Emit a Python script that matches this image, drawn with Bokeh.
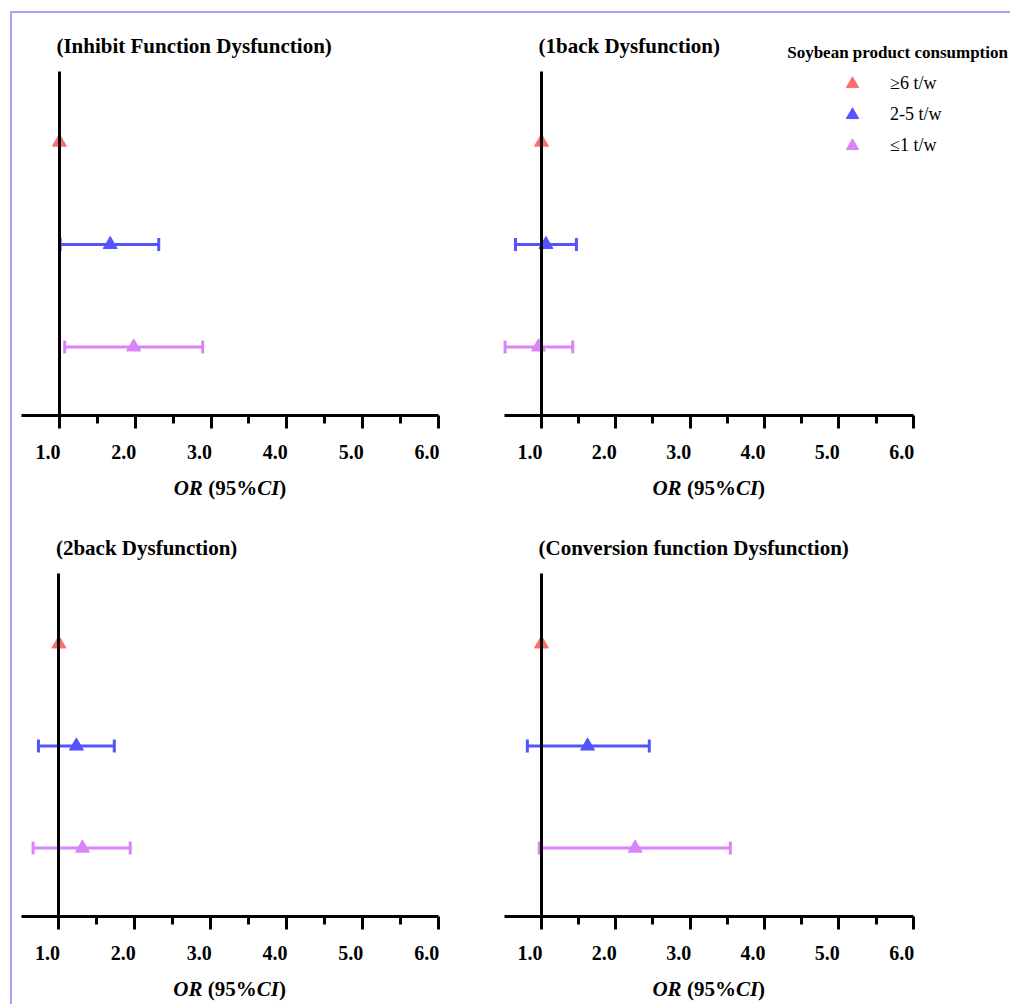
from bokeh.plotting import figure
from bokeh.models import (ColumnDataSource, Whisker, TeeHead, Label, Legend, LegendItem,
                          FixedTicker, CustomJSTickFormatter, LinearAxis, Range1d)
from bokeh.layouts import column, row
from bokeh.embed import file_html
from bokeh.resources import INLINE

# ---------------- data ----------------
panel_titles = ["(Inhibit Function Dysfunction)", "(1back Dysfunction)",
                "(2back Dysfunction)", "(Conversion function Dysfunction)"]
groups = ["\u22656 t/w", "2-5 t/w", "\u22641 t/w"]
group_rows = [3, 2, 1]
group_colors = ["#ff6e6e", "#5454ff", "#da84f8"]
legend_title = "Soybean product consumption"

# OR (point), lower and upper 95% CI for [>=6 (reference), 2-5, <=1]
or_inhibit = [1.00, 1.67, 1.98]
lo_inhibit = [1.00, 1.01, 1.07]
hi_inhibit = [1.00, 2.31, 2.89]

or_1back = [1.00, 1.06, 0.96]
lo_1back = [1.00, 0.65, 0.51]
hi_1back = [1.00, 1.47, 1.42]

or_2back = [1.00, 1.23, 1.31]
lo_2back = [1.00, 0.73, 0.66]
hi_2back = [1.00, 1.73, 1.94]

or_conv = [1.00, 1.62, 2.26]
lo_conv = [1.00, 0.81, 0.97]
hi_conv = [1.00, 2.45, 3.54]

tick_values = [1, 2, 3, 4, 5, 6]
tick_labels = ["1.0", "2.0", "3.0", "4.0", "5.0", "6.0"]
minor_values = [1.5, 2.5, 3.5, 4.5, 5.5]
x_lo, x_hi = 0.5, 6.0      # extent of the x axis line
y_lo, y_hi = 0.33, 3.69    # extent of the vertical reference axis
ref_line = 1.0

FONT = "Liberation Serif"


def make_panel(title, ors, los, his, width, height, x0_px, x1_px, ytop_px, yaxis_px,
               with_legend=False):
    # pixel layout of the axes inside the canvas -> data ranges of the full canvas
    sx = (x1_px - x0_px) / (x_hi - x_lo)
    xs = x_lo - x0_px / sx
    sy = (yaxis_px - ytop_px) / (y_hi - y_lo)
    ys = y_lo - (height - yaxis_px) / sy
    p = figure(width=width, height=height,
               x_range=Range1d(xs, xs + width / sx), y_range=Range1d(ys, ys + height / sy),
               output_backend="svg", toolbar_location=None, title=None,
               x_axis_location=None, y_axis_location=None,
               min_border_left=0, min_border_right=0, min_border_top=0, min_border_bottom=0,
               background_fill_color=None, border_fill_color=None, outline_line_color=None)
    p.grid.visible = False

    ax = LinearAxis(fixed_location=y_lo, bounds=(x_lo, x_hi),
                    ticker=FixedTicker(ticks=tick_values, minor_ticks=minor_values),
                    formatter=CustomJSTickFormatter(code="return ''"),
                    axis_line_width=3, axis_line_color="black",
                    major_tick_line_width=3, major_tick_line_color="black",
                    minor_tick_line_width=3, minor_tick_line_color="black",
                    major_tick_out=13, major_tick_in=0, minor_tick_out=8, minor_tick_in=0)
    p.add_layout(ax, "below")

    yax = LinearAxis(fixed_location=ref_line, bounds=(y_lo, y_hi),
                     ticker=FixedTicker(ticks=[]),
                     formatter=CustomJSTickFormatter(code="return ''"),
                     axis_line_width=3, axis_line_color="black",
                     major_tick_line_color=None, minor_tick_line_color=None)
    p.add_layout(yax, "left")

    renderers = []
    for i in range(3):
        src = ColumnDataSource(dict(y=[group_rows[i]], x=[ors[i]], lo=[los[i]], hi=[his[i]]))
        if i > 0:
            w = Whisker(source=src, base="y", lower="lo", upper="hi", dimension="width",
                        line_color=group_colors[i], line_width=3,
                        lower_head=TeeHead(size=13, line_color=group_colors[i], line_width=3),
                        upper_head=TeeHead(size=13, line_color=group_colors[i], line_width=3))
            p.add_layout(w)
        r = p.scatter("x", "y", source=src, marker="triangle", size=14,
                      fill_color=group_colors[i], line_color=group_colors[i], line_width=1)
        renderers.append(r)

    # tick labels (right aligned to ticks)
    for t, lab in zip(tick_values, tick_labels):
        p.add_layout(Label(x=t, y=y_lo, text=lab, text_align="right", text_baseline="middle",
                           x_offset=1, y_offset=-36, text_font=FONT, text_font_style="bold",
                           text_font_size="20px", text_color="black"))

    # axis label "OR (95%CI)" -- pieces with their horizontal offsets (px)
    pieces = [("OR", "bold italic", 0.0), ("(95%", "bold", 34.5),
              ("CI", "bold italic", 83.5), (")", "bold", 105.7)]
    total = 112.7
    xc = (x_lo + x_hi) / 2
    for txt, style, off in pieces:
        p.add_layout(Label(x=xc, y=y_lo, text=txt, text_align="left", text_baseline="middle",
                           x_offset=off - total / 2, y_offset=-72, text_font=FONT,
                           text_font_style=style, text_font_size="21px", text_color="black"))

    # panel title
    p.add_layout(Label(x=ref_line, y=y_hi, text=title, text_align="left", text_baseline="middle",
                       x_offset=-3, y_offset=26, text_font=FONT, text_font_style="bold",
                       text_font_size="21px", text_color="black"))

    if with_legend:
        p.add_layout(Label(x=x_hi, y=y_hi, text=legend_title, text_align="left",
                           text_baseline="middle", x_offset=-126, y_offset=19, text_font=FONT,
                           text_font_style="bold", text_font_size="17px", text_color="black"))
        items = [LegendItem(label=g, renderers=[r]) for g, r in zip(groups, renderers)]
        leg = Legend(items=items, location=(347, 341), orientation="vertical",
                     glyph_width=34, glyph_height=31, label_height=31, spacing=0,
                     padding=0, margin=0, border_line_color=None,
                     background_fill_color=None, background_fill_alpha=0,
                     label_text_font=FONT, label_text_font_size="18px",
                     label_text_color="black", label_standoff=21)
        p.add_layout(leg)
    return p


p1 = make_panel(panel_titles[0], or_inhibit, lo_inhibit, hi_inhibit, 488, 502, 21, 438, 71, 415)
p2 = make_panel(panel_titles[1], or_1back, lo_1back, hi_1back, 522, 502, 15.8, 424.7, 71, 415,
                with_legend=True)
p3 = make_panel(panel_titles[2], or_2back, lo_2back, hi_2back, 488, 502, 20.5, 437.7, 71, 414)
p4 = make_panel(panel_titles[3], or_conv, lo_conv, hi_conv, 522, 502, 15.8, 424.7, 71, 414)

border = "#a4a4f6"
layout = column(row(p1, p2), row(p3, p4), styles={
    "background": (f"linear-gradient({border},{border}) 10px 11px / calc(100% - 10px) 2px no-repeat, "
                   f"linear-gradient({border},{border}) 10px 11px / 2px calc(100% - 11px) no-repeat, "
                   "#ffffff")})

open("out.html", "w").write(file_html(layout, INLINE))
